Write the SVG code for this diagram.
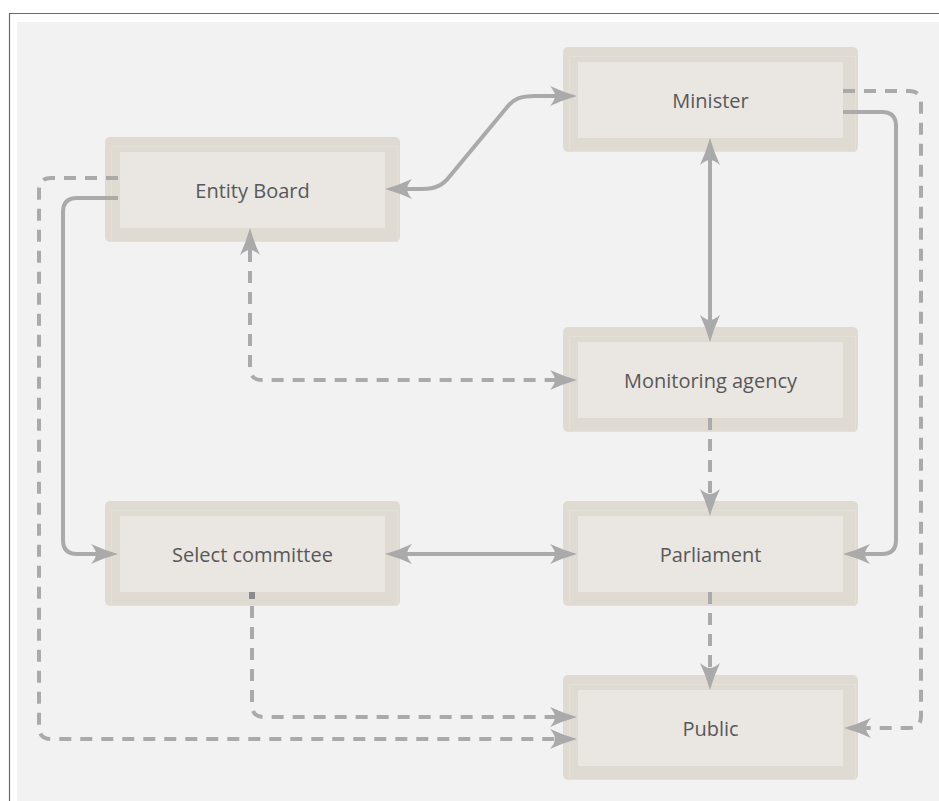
<svg xmlns="http://www.w3.org/2000/svg" width="939" height="801" viewBox="0 0 939 801">
  <style>
    .outer { fill: #dfdbd3; }
    .hl { fill: none; stroke: #e3e0da; stroke-width: 1; }
    .inner { fill: #eae7e2; }
    .label { font-family: "Open Sans", "Noto Sans", "Liberation Sans", sans-serif; font-size: 20px; fill: #58585a; text-anchor: middle; }
    .solid { fill: none; stroke: #aaaaab; stroke-width: 4; }
    .dash { fill: none; stroke: #aaaaab; stroke-width: 4; stroke-dasharray: 12 9; }
  </style>
  <defs>
    <marker id="arr" markerUnits="userSpaceOnUse" viewBox="-6 -12 30 24" markerWidth="30" markerHeight="24" refX="0" refY="0" orient="auto-start-reverse" overflow="visible">
      <path d="M22,0 Q8,-4 -5,-10 Q0,-4 0,0 Q0,4 -5,10 Q8,4 22,0 Z" fill="#aaaaab"/>
    </marker>
  </defs>
  <rect x="0" y="0" width="939" height="801" fill="#ffffff"/>
  <rect x="17" y="22" width="922" height="779" fill="#f2f2f2"/>
  <path d="M9.5,801 V13.5 H939" fill="none" stroke="#6b6b6b" stroke-width="1.2"/>

  <g id="node-entity-board">
    <rect class="outer" x="105" y="137" width="295" height="105" rx="5"/>
    <rect class="hl" x="111.5" y="146.5" width="286" height="95"/>
    <rect class="inner" x="120" y="152" width="265" height="76"/>
    <text class="label" x="252.5" y="198">Entity Board</text>
  </g>
  <g id="node-minister">
    <rect class="outer" x="563" y="47" width="295" height="105" rx="5"/>
    <rect class="hl" x="569.5" y="56.5" width="286" height="95"/>
    <rect class="inner" x="578" y="62" width="265" height="76"/>
    <text class="label" x="710.5" y="108">Minister</text>
  </g>
  <g id="node-monitoring-agency">
    <rect class="outer" x="563" y="327" width="295" height="105" rx="5"/>
    <rect class="hl" x="569.5" y="336.5" width="286" height="95"/>
    <rect class="inner" x="578" y="342" width="265" height="76"/>
    <text class="label" x="710.5" y="388">Monitoring agency</text>
  </g>
  <g id="node-select-committee">
    <rect class="outer" x="105" y="501" width="295" height="105" rx="5"/>
    <rect class="hl" x="111.5" y="510.5" width="286" height="95"/>
    <rect class="inner" x="120" y="516" width="265" height="76"/>
    <text class="label" x="252.5" y="562">Select committee</text>
  </g>
  <g id="node-parliament">
    <rect class="outer" x="563" y="501" width="295" height="105" rx="5"/>
    <rect class="hl" x="569.5" y="510.5" width="286" height="95"/>
    <rect class="inner" x="578" y="516" width="265" height="76"/>
    <text class="label" x="710.5" y="562">Parliament</text>
  </g>
  <g id="node-public">
    <rect class="outer" x="563" y="675" width="295" height="105" rx="5"/>
    <rect class="hl" x="569.5" y="684.5" width="286" height="95"/>
    <rect class="inner" x="578" y="690" width="265" height="76"/>
    <text class="label" x="710.5" y="736">Public</text>
  </g>

  <g id="connectors">
    <!-- Entity Board <-> Minister -->
    <path class="solid" d="M407,189 H422 C436,189 443,185 450,176 L508,106 C514,99 520,96 535,96 H555" marker-start="url(#arr)" marker-end="url(#arr)"/>
    <!-- Minister <-> Monitoring agency -->
    <path class="solid" d="M710,160 V320" marker-start="url(#arr)" marker-end="url(#arr)"/>
    <!-- Minister -> Parliament -->
    <path class="solid" d="M843,112 H882 Q896,112 896,126 V540 Q896,554 882,554 H865" marker-end="url(#arr)"/>
    <!-- Minister -> Public (dashed) -->
    <path class="dash" d="M843,91 H909 Q921,91 921,103 V716 Q921,728 909,728 H866" marker-end="url(#arr)"/>
    <!-- Entity Board -> Select committee -->
    <path class="solid" d="M118,198 H77 Q63,198 63,212 V540 Q63,554 77,554 H96" marker-end="url(#arr)"/>
    <!-- Entity Board -> Public (dashed) -->
    <path class="dash" d="M118,178 H51 Q39,178 39,190 V727 Q39,739 51,739 H555" marker-end="url(#arr)"/>
    <!-- Select committee -> Public (dashed) -->
    <rect x="249" y="592" width="6" height="7" fill="#8a8a8c"/>
    <path class="dash" d="M252,606 V705 Q252,717 264,717 H555" marker-end="url(#arr)"/>
    <!-- Entity Board <-> Monitoring agency (dashed) -->
    <path class="dash" d="M250,250 V368 Q250,380 262,380 H555" marker-start="url(#arr)" marker-end="url(#arr)"/>
    <!-- Monitoring agency -> Parliament (dashed) -->
    <path class="dash" d="M710,418 V494" marker-end="url(#arr)"/>
    <!-- Select committee <-> Parliament -->
    <path class="solid" d="M407,554 H555" marker-start="url(#arr)" marker-end="url(#arr)"/>
    <!-- Parliament -> Public (dashed) -->
    <path class="dash" d="M710,592 V668" marker-end="url(#arr)"/>
  </g>
</svg>
